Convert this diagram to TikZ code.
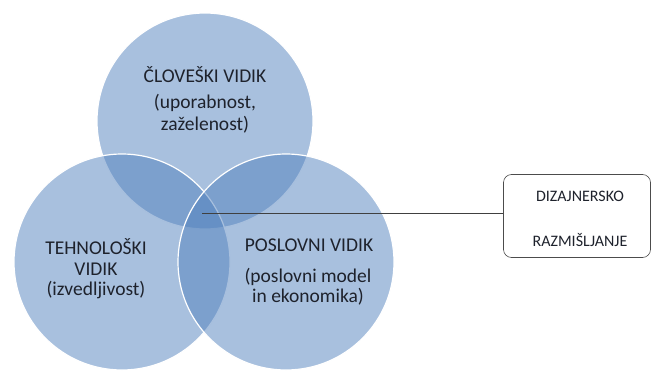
\documentclass[tikz,border=0pt]{standalone}
\usepackage{fontspec}
\setmainfont{Carlito}
\usepackage{tikz}
\usetikzlibrary{positioning}

\definecolor{modra}{RGB}{81,129,189}
\definecolor{besedilo}{RGB}{30,34,44}

\begin{document}
\begin{tikzpicture}[x=1pt,y=-1pt,
  krog/.style={circle,fill=modra,fill opacity=0.5,draw=white,line width=1.2pt,minimum size=216pt,inner sep=0pt},
  naslov/.style={text=besedilo,font=\fontsize{19.5}{21}\selectfont,align=center},
  napis/.style={text=besedilo,font=\fontsize{16}{18}\selectfont},
  okvir/.style={draw=black!70,rounded corners=8pt,minimum width=147pt,minimum height=83pt,line width=0.6pt}]
%ozadje in meje slike
\useasboundingbox (0,0) rectangle (651,372);

%trije krogi
\node[krog] (clovek) at (205,121) {};
\node[krog] (tehno) at (122,262) {};
\node[krog] (posel) at (286,262) {};

%besedilo v krogih
\node[naslov] (clovekN) at (205,75) {ČLOVEŠKI VIDIK};
\node[naslov,font=\fontsize{19.5}{22}\selectfont] (clovekP) at (205,114) {(uporabnost,\\zaželenost)};
\node[naslov,font=\fontsize{19.5}{21}\selectfont] (tehnoN) at (96,257) {TEHNOLOŠKI\\VIDIK};
\node[naslov] (tehnoP) at (96,290) {(izvedljivost)};
\node[naslov] (poselN) at (309,245) {POSLOVNI VIDIK};
\node[naslov,font=\fontsize{19.5}{20}\selectfont] (poselP) at (308,287) {(poslovni model\\in ekonomika)};

%okvir na desni
\node[okvir] (dizajn) at (577,216) {};
\node[napis] (dizajnA) at (580,196) {DIZAJNERSKO};
\node[napis] (dizajnB) at (580,240) {RAZMIŠLJANJE};

%povezava iz sredine
\coordinate (sredina) at (202,213);
\draw[black!75,line width=0.9pt] (sredina) -- (dizajn.west |- sredina);
\end{tikzpicture}
\end{document}
